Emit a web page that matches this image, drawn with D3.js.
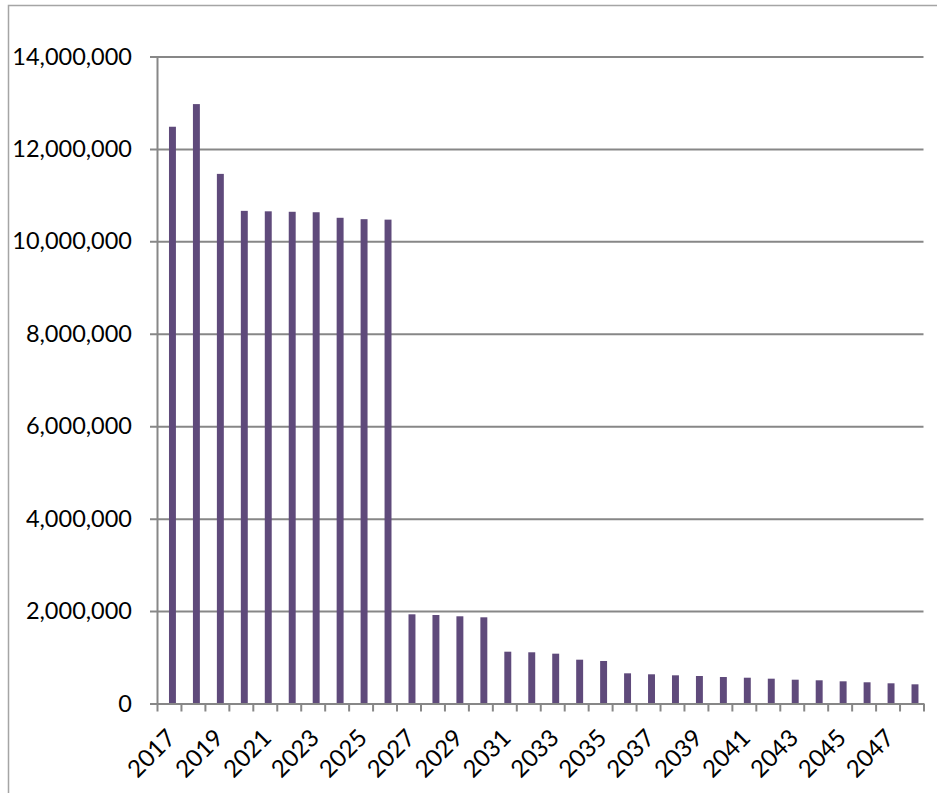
<!DOCTYPE html>
<html>
<head>
<meta charset="utf-8">
<script src="https://cdn.jsdelivr.net/npm/d3@7"></script>
<style>
  html, body { margin: 0; padding: 0; background: #fff; }
  svg { display: block; }
</style>
</head>
<body>
<div id="grafica"></div>
<script>
// --- Datos ---
const anios = d3.range(2017, 2049).map(String);
const valores = [
  12480000, 12970000, 11460000, 10660000, 10650000, 10640000, 10630000, 10510000,
  10480000, 10470000, 1930000, 1915000, 1887000, 1865000, 1121000, 1108000,
  1078000, 948000, 920000, 653000, 632000, 610000, 595000, 573000,
  558000, 537000, 515000, 502000, 480000, 459000, 437000, 415000
];
const ticksY = [0, 2000000, 4000000, 6000000, 8000000, 10000000, 12000000, 14000000];

const datos = anios.map((a, i) => ({ anio: a, valor: valores[i] }));

// --- Lienzo ---
const ancho = 937, alto = 793;
const margen = { izq: 157, der: 937 - 923.5, arr: 56.5, abj: 793 - 703.5 };

const svg = d3.select("#grafica").append("svg")
  .attr("width", ancho)
  .attr("height", alto);

// marco exterior del gráfico
svg.append("rect")
  .attr("x", 8.5).attr("y", 5.5)
  .attr("width", ancho + 10).attr("height", alto + 10)
  .attr("fill", "none")
  .attr("stroke", "#a5a5a5")
  .attr("stroke-width", 1.5);

const fuente = "Lato, 'Liberation Sans', Arial, sans-serif";
const gris = "#878787";

// --- Escalas ---
const x = d3.scaleBand()
  .domain(anios)
  .range([margen.izq, ancho - margen.der]);

// escala de límites de categoría (para las marcas del eje X al estilo Excel)
const xLim = d3.scaleLinear()
  .domain([0, anios.length])
  .range([margen.izq, ancho - margen.der]);

const y = d3.scaleLinear()
  .domain([0, 14000000])
  .range([alto - margen.abj, margen.arr]);

// --- Líneas de cuadrícula + eje Y ---
const ejeY = svg.append("g")
  .attr("transform", `translate(${margen.izq},0)`)
  .call(d3.axisLeft(y)
    .tickValues(ticksY)
    .tickSizeInner(-(ancho - margen.der - margen.izq))
    .tickSizeOuter(0)
    .tickPadding(25)
    .tickFormat(d3.format(",")));

ejeY.select(".domain").attr("stroke", gris).attr("stroke-width", 2);
ejeY.selectAll(".tick line")
  .attr("x1", -7)
  .attr("stroke", gris)
  .attr("stroke-width", 2);
ejeY.selectAll(".tick text")
  .attr("font-family", fuente)
  .attr("font-size", 23.5)
  .attr("fill", "#000");

// --- Barras ---
const anchoBarra = x.bandwidth() * 0.29;
svg.append("g")
  .selectAll("rect")
  .data(datos)
  .join("rect")
  .attr("x", d => x(d.anio) + x.bandwidth() / 2)
  .attr("y", d => y(d.valor))
  .attr("width", anchoBarra)
  .attr("height", d => y(0) - y(d.valor))
  .attr("fill", "#5f4a7b");

// --- Eje X: marcas en los límites ---
const ejeX = svg.append("g")
  .attr("transform", `translate(0,${y(0)})`)
  .call(d3.axisBottom(xLim)
    .tickValues(d3.range(anios.length + 1))
    .tickSize(8)
    .tickSizeOuter(0)
    .tickFormat(""));
ejeX.select(".domain").attr("stroke", gris).attr("stroke-width", 2);
ejeX.selectAll(".tick line").attr("stroke", gris).attr("stroke-width", 2);

// --- Eje X: etiquetas rotadas (una de cada dos) ---
const etiquetas = svg.append("g")
  .attr("transform", `translate(0,${y(0)})`)
  .call(d3.axisBottom(x)
    .tickValues(anios.filter((a, i) => i % 2 === 0))
    .tickSize(0)
    .tickPadding(0));
etiquetas.select(".domain").remove();
etiquetas.selectAll(".tick text")
  .attr("font-family", fuente)
  .attr("font-size", 24)
  .attr("fill", "#000")
  .attr("text-anchor", "end")
  .attr("dy", null)
  .attr("y", null)
  .attr("transform", "translate(8,36) rotate(-45)");
</script>
</body>
</html>
